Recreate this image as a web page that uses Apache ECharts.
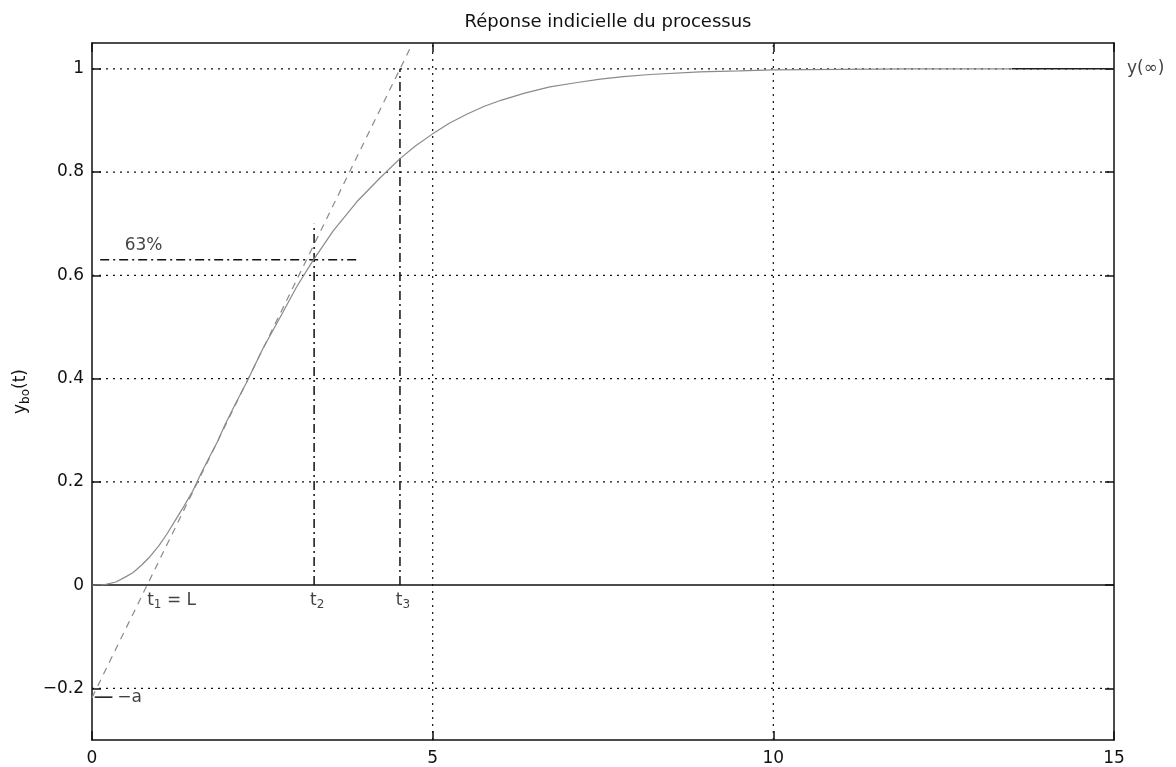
<!DOCTYPE html>
<html><head><meta charset="utf-8">
<script src="https://cdn.jsdelivr.net/npm/echarts@6/dist/echarts.min.js"></script>
<style>html,body{margin:0;padding:0;background:#fff}#c{width:1176px;height:767px}</style>
</head><body><div id="c"></div>
<script>
// ---- data ----
const titleText = 'Réponse indicielle du processus';
const xTicks = [0, 5, 10, 15];
const yTicks = [-0.2, 0, 0.2, 0.4, 0.6, 0.8, 1];
const yGridValues = [-0.2, 0.2, 0.4, 0.6, 0.8, 1];
const xGridValues = [5, 10];
const xRange = [0, 15];
const yRange = [-0.3, 1.05];
const curveT = [0, 0.19, 0.35, 0.48, 0.6, 0.73, 0.85, 0.98, 1.1, 1.22, 1.35, 1.47, 1.6, 1.72, 1.85, 1.95, 2.1, 2.27, 2.5, 2.8, 3.0, 3.24, 3.54, 3.89, 4.23, 4.52, 4.75, 5.0, 5.25, 5.5, 5.75, 6.0, 6.35, 6.72, 7.1, 7.46, 7.8, 8.19, 8.92, 9.5, 10, 11, 12, 13.5];
const curveY = [0, 0.001, 0.006, 0.015, 0.024, 0.039, 0.055, 0.076, 0.099, 0.125, 0.153, 0.18, 0.216, 0.247, 0.28, 0.31, 0.35, 0.393, 0.456, 0.528, 0.577, 0.628, 0.686, 0.743, 0.789, 0.826, 0.851, 0.874, 0.895, 0.912, 0.927, 0.939, 0.953, 0.965, 0.973, 0.98, 0.985, 0.989, 0.994, 0.996, 0.998, 0.999, 1, 1];
const tangentT = [0, 4.67];
const tangentY = [-0.218, 1.04];
const t1 = 0.81, t2 = 3.26, t3 = 4.52;
const level63 = 0.63;
const level63SpanT = [0.12, 3.9];
const t2TopY = 0.70;
const t3TopY = 1.0;
const minusA = -0.217;
const minusASpanT = [0.04, 0.3];
const finalSpanT = [13.5, 15];
const finalValue = 1;
const annotations = [
  { name: '63%', at: [0.48, 0.636], text: '{n|63%}', va: 'bottom', off: [0, 0] },
  { name: 't1', at: [t1, -0.008], text: '{n|t}{s|1}{n| = L}', va: 'top', off: [0, 0] },
  { name: 't2', at: [3.2, -0.008], text: '{n|t}{s|2}', va: 'top', off: [0, 0] },
  { name: 't3', at: [4.46, -0.008], text: '{n|t}{s|3}', va: 'top', off: [0, 0] },
  { name: '-a', at: [0.37, minusA], text: '{n|\u2212a}', va: 'middle', off: [0, 0] },
  { name: 'yinf', at: [15, finalValue], text: '{n|y(\u221e)}', va: 'middle', off: [13, 0] }
];

// ---- chart ----
const FONT = 'DejaVu Sans';
const TXT = '#111';
const rich = {
  n: { fontFamily: FONT, fontSize: 17, color: TXT, lineHeight: 22, verticalAlign: 'middle' },
  s: { fontFamily: FONT, fontSize: 12, color: TXT, lineHeight: 12, verticalAlign: 'bottom' },
  y: { fontFamily: FONT, fontSize: 17, color: TXT, lineHeight: 22, verticalAlign: 'middle' }
};
function seg(a, b) { return [a, b]; }
function lineSeries(data, style, z) {
  return { type: 'line', data: data, symbol: 'none', silent: true, animation: false,
    lineStyle: style, z: z || 2, clip: false };
}
const series = [];
const gridStyle = { color: '#111', width: 1.2, type: [2, 5] };
yGridValues.forEach(v => series.push(lineSeries(seg([xRange[0], v], [xRange[1], v]), gridStyle, 1)));
xGridValues.forEach(v => series.push(lineSeries(seg([v, yRange[0]], [v, yRange[1]]), gridStyle, 1)));
series.push(lineSeries(seg([xRange[0], 0], [xRange[1], 0]), { color: '#111', width: 1.5, type: 'solid' }, 3));
series.push(lineSeries(seg([finalSpanT[0], finalValue], [finalSpanT[1], finalValue]), { color: '#222', width: 1.5, type: 'solid' }, 3));
series.push(lineSeries(curveT.map((t, i) => [t, curveY[i]]), { color: '#8a8a8a', width: 1.2 }, 4));
series.push(lineSeries(tangentT.map((t, i) => [t, tangentY[i]]), { color: '#8a8a8a', width: 1.2, type: [7, 6] }, 4));
const dashDot = { color: '#111', width: 1.5, type: [9, 4, 2, 4] };
series.push(lineSeries(seg([level63SpanT[0], level63], [level63SpanT[1], level63]), dashDot, 3));
series.push(lineSeries(seg([t2, 0], [t2, t2TopY]), dashDot, 3));
series.push(lineSeries(seg([t3, 0], [t3, t3TopY]), dashDot, 3));
series.push(lineSeries(seg([minusASpanT[0], minusA], [minusASpanT[1], minusA]), { color: '#111', width: 1.5, type: 'solid' }, 3));
series.push({
  type: 'scatter', symbolSize: 0, silent: true, animation: false, clip: false, z: 5,
  itemStyle: { color: '#111' },
  data: annotations.map(a => ({
    value: a.at,
    label: { show: true, formatter: a.text, rich: rich, color: TXT, position: [0, 0], align: 'left',
      verticalAlign: a.va, offset: a.off }
  }))
});

function fmtY(v) {
  if (Math.abs(v) < 1e-9) return '0';
  const s = String(Math.round(Math.abs(v) * 10) / 10);
  return (v < 0 ? '\u2212' : '') + s;
}
const axisLineStyle = { onZero: false, lineStyle: { color: '#111', width: 1.5 } };
const tickStyle = { inside: true, length: 9, lineStyle: { color: '#111', width: 1.5 } };
const labelStyle = { fontFamily: FONT, fontSize: 17, color: TXT };

const option = {
  backgroundColor: '#fff',
  animation: false,
  title: { text: titleText, left: 603, top: 8, textAlign: 'center',
    textStyle: { fontFamily: FONT, fontSize: 18, fontWeight: 'normal', color: TXT } },
  grid: { left: 92, right: 62, top: 43, bottom: 27, containLabel: false },
  xAxis: [
    { type: 'value', min: xRange[0], max: xRange[1], interval: 5, position: 'bottom',
      axisLine: axisLineStyle, axisTick: Object.assign({ customValues: xTicks }, tickStyle),
      axisLabel: Object.assign({ customValues: xTicks, margin: 10 }, labelStyle), splitLine: { show: false } },
    { type: 'value', min: xRange[0], max: xRange[1], interval: 5, position: 'top',
      axisLine: axisLineStyle, axisTick: Object.assign({ customValues: xTicks }, tickStyle),
      axisLabel: { show: false }, splitLine: { show: false } }
  ],
  yAxis: [
    { type: 'value', min: yRange[0], max: yRange[1], position: 'left',
      name: '{y|y}{s|bo}{y|(t)}', nameLocation: 'middle', nameGap: 54, nameRotate: 90,
      nameTextStyle: { rich: rich },
      axisLine: axisLineStyle, axisTick: Object.assign({ customValues: yTicks }, tickStyle),
      axisLabel: Object.assign({ customValues: yTicks, margin: 8, formatter: fmtY }, labelStyle),
      splitLine: { show: false } },
    { type: 'value', min: yRange[0], max: yRange[1], position: 'right',
      axisLine: axisLineStyle, axisTick: Object.assign({ customValues: yTicks }, tickStyle),
      axisLabel: { show: false }, splitLine: { show: false } }
  ],
  series: series
};
const chart = echarts.init(document.getElementById('c'), null, { renderer: 'canvas' });
chart.setOption(option);
</script>
</body></html>
